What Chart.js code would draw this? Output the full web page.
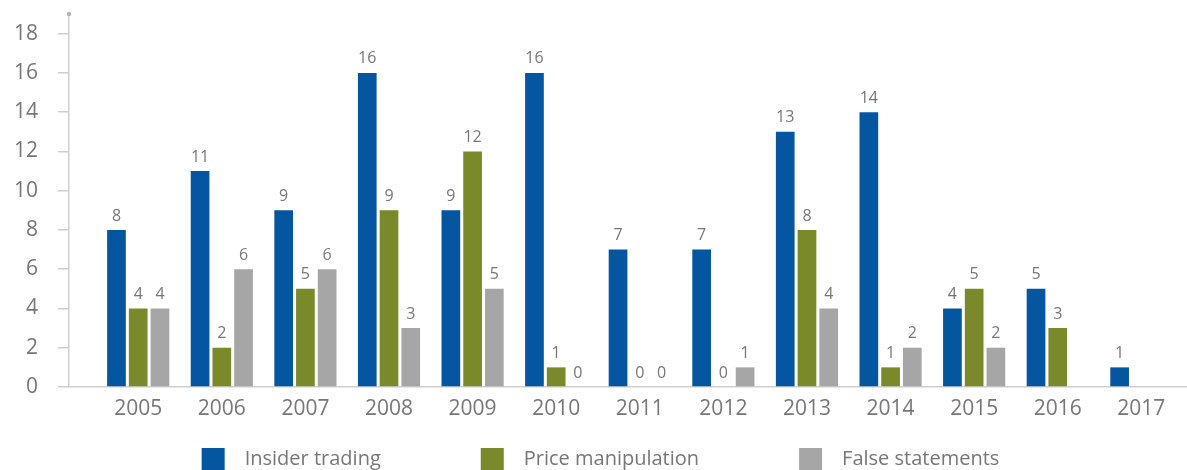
<!DOCTYPE html>
<html>
<head>
<meta charset="utf-8">
<script src="https://cdn.jsdelivr.net/npm/chart.js@4/dist/chart.umd.min.js"></script>
<style>
  html, body { margin: 0; padding: 0; background: #ffffff; }
  #wrap { width: 1187px; height: 470px; position: relative; }
</style>
</head>
<body>
<div id="wrap"><canvas id="c"></canvas></div>
<script>
const categories = ["2005","2006","2007","2008","2009","2010","2011","2012","2013","2014","2015","2016","2017"];
const insiderTrading    = [8, 11, 9, 16, 9, 16, 7, 7, 13, 14, 4, 5, 1];
const priceManipulation = [4, 2, 5, 9, 12, 1, 0, 0, 8, 1, 5, 3, null];
const falseStatements   = [4, 6, 6, 3, 5, 0, 0, 1, 4, 2, 2, null, null];
const seriesNames = ["Insider trading", "Price manipulation", "False statements"];
const yTicks = [0, 2, 4, 6, 8, 10, 12, 14, 16, 18];

const colors = ["#0456a0", "#7a8a2b", "#a6a6a6"];
const textColor = "#777777";
const axisColor = "#cfcfcf";
const FONT = "'Open Sans', 'DejaVu Sans', sans-serif";

const toPoints = arr => arr.map((v, i) => ({ x: i, y: v }));

const valueLabels = {
  id: 'valueLabels',
  afterDatasetsDraw(chart) {
    const ctx = chart.ctx;
    ctx.save();
    ctx.font = "16px " + FONT;
    ctx.fillStyle = textColor;
    ctx.textAlign = 'center';
    ctx.textBaseline = 'middle';
    chart.data.datasets.forEach((ds, di) => {
      const meta = chart.getDatasetMeta(di);
      meta.data.forEach((el, i) => {
        const v = ds.data[i].y;
        if (v === null || v === undefined) return;
        ctx.fillText(String(v), el.x, el.y - 14);
      });
    });
    ctx.restore();
  }
};

const axisDot = {
  id: 'axisDot',
  afterDraw(chart) {
    const ctx = chart.ctx;
    const a = chart.chartArea;
    ctx.save();
    ctx.fillStyle = "#b5b5b5";
    ctx.beginPath();
    ctx.arc(a.left, a.top, 2.2, 0, Math.PI * 2);
    ctx.fill();
    ctx.restore();
  }
};

const bottomLegend = {
  id: 'bottomLegend',
  afterDraw(chart) {
    const ctx = chart.ctx;
    ctx.save();
    ctx.font = "20px " + FONT;
    const box = 23, gapText = 20, gapItem = 100;
    const items = chart.data.datasets.map(ds => ({ label: ds.label, color: ds.backgroundColor, w: ctx.measureText(ds.label).width }));
    let total = 0;
    items.forEach((it, i) => { total += box + gapText + it.w + (i < items.length - 1 ? gapItem : 0); });
    let x = (chart.width - total) / 2 + 7;
    const boxTop = 448, textY = 459;
    ctx.textBaseline = 'middle';
    ctx.textAlign = 'left';
    items.forEach(it => {
      ctx.fillStyle = it.color;
      ctx.fillRect(x, boxTop, box, box);
      ctx.fillStyle = textColor;
      ctx.fillText(it.label, x + box + gapText, textY);
      x += box + gapText + it.w + gapItem;
    });
    ctx.restore();
  }
};

new Chart(document.getElementById('c'), {
  type: 'bar',
  data: {
    datasets: [
      { label: seriesNames[0], data: toPoints(insiderTrading), backgroundColor: colors[0] },
      { label: seriesNames[1], data: toPoints(priceManipulation), backgroundColor: colors[1] },
      { label: seriesNames[2], data: toPoints(falseStatements), backgroundColor: colors[2] }
    ]
  },
  options: {
    responsive: true,
    maintainAspectRatio: false,
    animation: false,
    categoryPercentage: 0.78,
    barPercentage: 0.86,
    layout: { padding: { top: 14, right: 0, bottom: 43, left: 0 } },
    plugins: {
      legend: { display: false },
      tooltip: { enabled: false }
    },
    scales: {
      x: {
        type: 'linear',
        offset: false,
        min: -0.828,
        max: 12.546,
        grid: { display: false, drawTicks: false, offset: false },
        border: { display: true, color: axisColor, width: 1.5 },
        ticks: {
          stepSize: 1,
          autoSkip: false,
          maxRotation: 0,
          padding: 9,
          color: textColor,
          font: { family: FONT, size: 21 },
          callback: v => categories[v]
        },
        afterBuildTicks: s => { s.ticks = categories.map((c, i) => ({ value: i })); },
        afterFit: s => { s.height = 40; s.paddingLeft = 0; s.paddingRight = 0; }
      },
      y: {
        min: 0,
        max: 19,
        grid: { drawOnChartArea: false, drawTicks: true, tickLength: 11, color: axisColor, lineWidth: 1.5 },
        border: { display: true, color: axisColor, width: 1.5 },
        ticks: {
          stepSize: 2,
          padding: 20,
          color: textColor,
          font: { family: FONT, size: 21 }
        },
        afterBuildTicks: s => { s.ticks = yTicks.map(v => ({ value: v })); },
        afterFit: s => { s.width = 69; s.paddingTop = 0; s.paddingBottom = 0; }
      }
    }
  },
  plugins: [valueLabels, axisDot, bottomLegend]
});
</script>
</body>
</html>
